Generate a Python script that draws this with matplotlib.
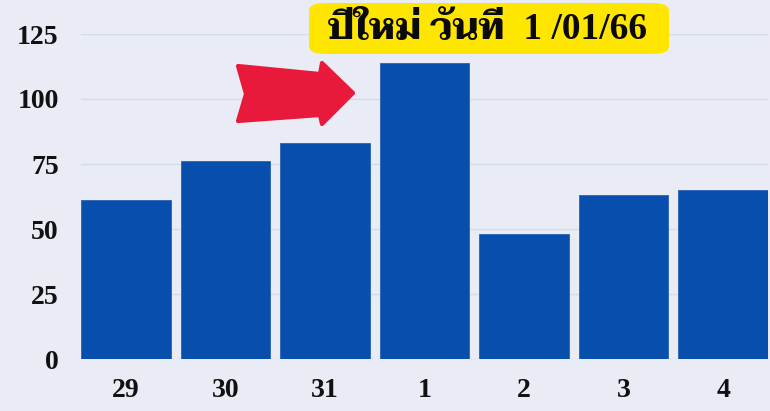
import matplotlib
matplotlib.use('Agg')
import matplotlib.pyplot as plt
from matplotlib.patches import FancyBboxPatch, Polygon

categories = ['29', '30', '31', '1', '2', '3', '4']
values = [61, 76, 83, 114, 48, 63, 65]
yticks = [0, 25, 50, 75, 100, 125]
title = 'ปีใหม่ วันที่  1 /01/66'

W, H = 770, 411
bg = '#e9ecf5'
fig = plt.figure(figsize=(W/100, H/100), dpi=100, facecolor=bg)
ax = fig.add_axes([81/W, 1-359/H, (768-81)/W, (359-34)/H], facecolor=bg)

x = range(len(categories))
ax.bar(x, values, width=0.9, color='#074ead', edgecolor='#2a62b8', linewidth=0.6, zorder=3)
ax.set_xlim(-0.45, len(categories)-0.55)
ax.set_ylim(0, 125)
ax.set_yticks(yticks)
ax.set_xticks(list(x))
ax.set_xticklabels(categories)
ax.grid(axis='y', color='#d7dbe7', linewidth=1.0, zorder=0)
for s in ax.spines.values():
    s.set_visible(False)
ax.tick_params(length=0)
ax.tick_params(axis='y', pad=16)
ax.tick_params(axis='x', pad=14)
for lab in ax.get_xticklabels() + ax.get_yticklabels():
    lab.set_fontfamily('Liberation Serif')
    lab.set_fontweight('bold')
    lab.set_fontsize(20)
    lab.set_color('#111111')

# title box
box = FancyBboxPatch((309/W, 1-54/H), (669-309)/W, (54-3)/H,
                     boxstyle='round,pad=0,rounding_size=0.02',
                     transform=fig.transFigure, facecolor='#ffe600',
                     edgecolor='none', zorder=5)
fig.patches.append(box)
fig.text(488/W, 1-29/H, title, ha='center', va='center', fontsize=27,
         fontweight='bold', family=['Liberation Serif', 'Taviraj'], color='#0a0a0a', zorder=6)

# decorative arrow
pts = [(238, 66), (320, 74), (322, 63), (353, 93), (322, 124), (320, 115), (238, 121), (246, 94)]
arrow = Polygon([(px/W, 1-py/H) for px, py in pts], closed=True, transform=fig.transFigure,
                facecolor='#e8193a', edgecolor='#e8193a', linewidth=3, joinstyle='round', zorder=6)
fig.patches.append(arrow)

fig.savefig('out.png', dpi=100, facecolor=bg)
